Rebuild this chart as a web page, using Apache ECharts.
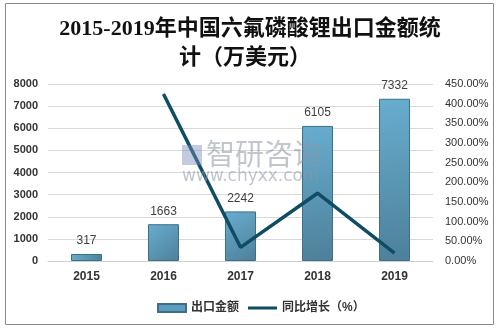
<!DOCTYPE html>
<html><head><meta charset="utf-8">
<script src="https://cdn.jsdelivr.net/npm/echarts@6/dist/echarts.min.js"></script>
<style>html,body{margin:0;padding:0;background:#fff}#c{width:499px;height:330px}</style>
</head><body><div id="c"></div>
<script>
const categories = ['2015','2016','2017','2018','2019'];
const exportValues = [317, 1663, 2242, 6105, 7332];
const growthValues = [null, 424.6, 34.8, 172.3, 20.1];
const titleLines = ['2015-2019年中国六氟磷酸锂出口金额统', '计（万美元）'];

const chart = echarts.init(document.getElementById('c'));
const labelFont = 'Liberation Sans, Noto Sans CJK SC, sans-serif';
const titleFont = 'bold 22px "Liberation Serif", "Noto Sans CJK SC", serif';
const legendText = {fontFamily:labelFont, fontSize:12, color:'#333', fontWeight:'bold'};
chart.setOption({
  animation:false,
  graphic:[
    {type:'rect', shape:{x:5.5,y:3.5,width:488,height:321}, style:{fill:'none', stroke:'#8a8a8a', lineWidth:1}, z:-1},
    {type:'text', x:250, y:18, style:{text:titleLines[0], font:titleFont, fill:'#111', align:'center', verticalAlign:'top'}},
    {type:'text', x:245, y:47, style:{text:titleLines[1], font:titleFont, fill:'#111', align:'center', verticalAlign:'top'}},
    {type:'text', left:206, top:139, z:100, style:{text:'智研咨询', font:'29px "Noto Sans CJK SC"', fill:'rgba(140,150,165,0.55)'}},
    {type:'text', left:182, top:168, z:100, style:{text:'www.chyxx.com', font:'17px "DejaVu Sans"', fill:'rgba(140,150,165,0.55)'}},
    {type:'rect', z:100, shape:{x:182,y:145,width:20,height:20}, style:{fill:'rgba(120,140,185,0.45)'}}
  ],
  legend:[
    {left:152, top:297, itemGap:12, textStyle:legendText,
     data:[{name:'出口金额', icon:'rect', itemStyle:{color:'#5a9cbd', borderColor:'#3f6f88'}}],
     itemWidth:28, itemHeight:8},
    {left:243, top:297, itemGap:12, textStyle:legendText,
     data:[{name:'同比增长（%）', icon:'rect'}],
     itemWidth:29, itemHeight:3}
  ],
  grid:{left:48, right:66, top:84, bottom:69},
  xAxis:{type:'category', data:categories,
    axisLine:{lineStyle:{color:'#d0d0d0'}}, axisTick:{show:false},
    axisLabel:{fontFamily:labelFont, fontWeight:'bold', fontSize:12, color:'#333', margin:10}},
  yAxis:[
    {type:'value', min:0, max:8000, interval:1000,
     axisLine:{show:false}, axisTick:{show:false},
     splitLine:{lineStyle:{color:'#d9d9d9'}},
     axisLabel:{fontFamily:labelFont, fontWeight:'bold', fontSize:11, color:'#333', margin:10, formatter:v=>String(v)}},
    {type:'value', min:0, max:450, interval:50,
     axisLine:{show:false}, axisTick:{show:false}, splitLine:{show:false},
     axisLabel:{fontFamily:labelFont, fontSize:11, color:'#333', margin:12, formatter:v=>v.toFixed(2)+'%'}}
  ],
  series:[
    {name:'出口金额', type:'bar', data:exportValues, barWidth:31,
     itemStyle:{borderColor:'#3f6f88', borderWidth:1,
       color:new echarts.graphic.LinearGradient(0,0,1,1,[{offset:0,color:'#68adcf'},{offset:1,color:'#4d8099'}])},
     label:{show:true, position:'top', distance:7, fontFamily:labelFont, fontSize:12, color:'#404040'}},
    {name:'同比增长（%）', type:'line', yAxisIndex:1, data:growthValues, symbol:'none',
     lineStyle:{color:'#0e4d63', width:3.5}, itemStyle:{color:'#0e4d63'}}
  ]
});
</script></body></html>
